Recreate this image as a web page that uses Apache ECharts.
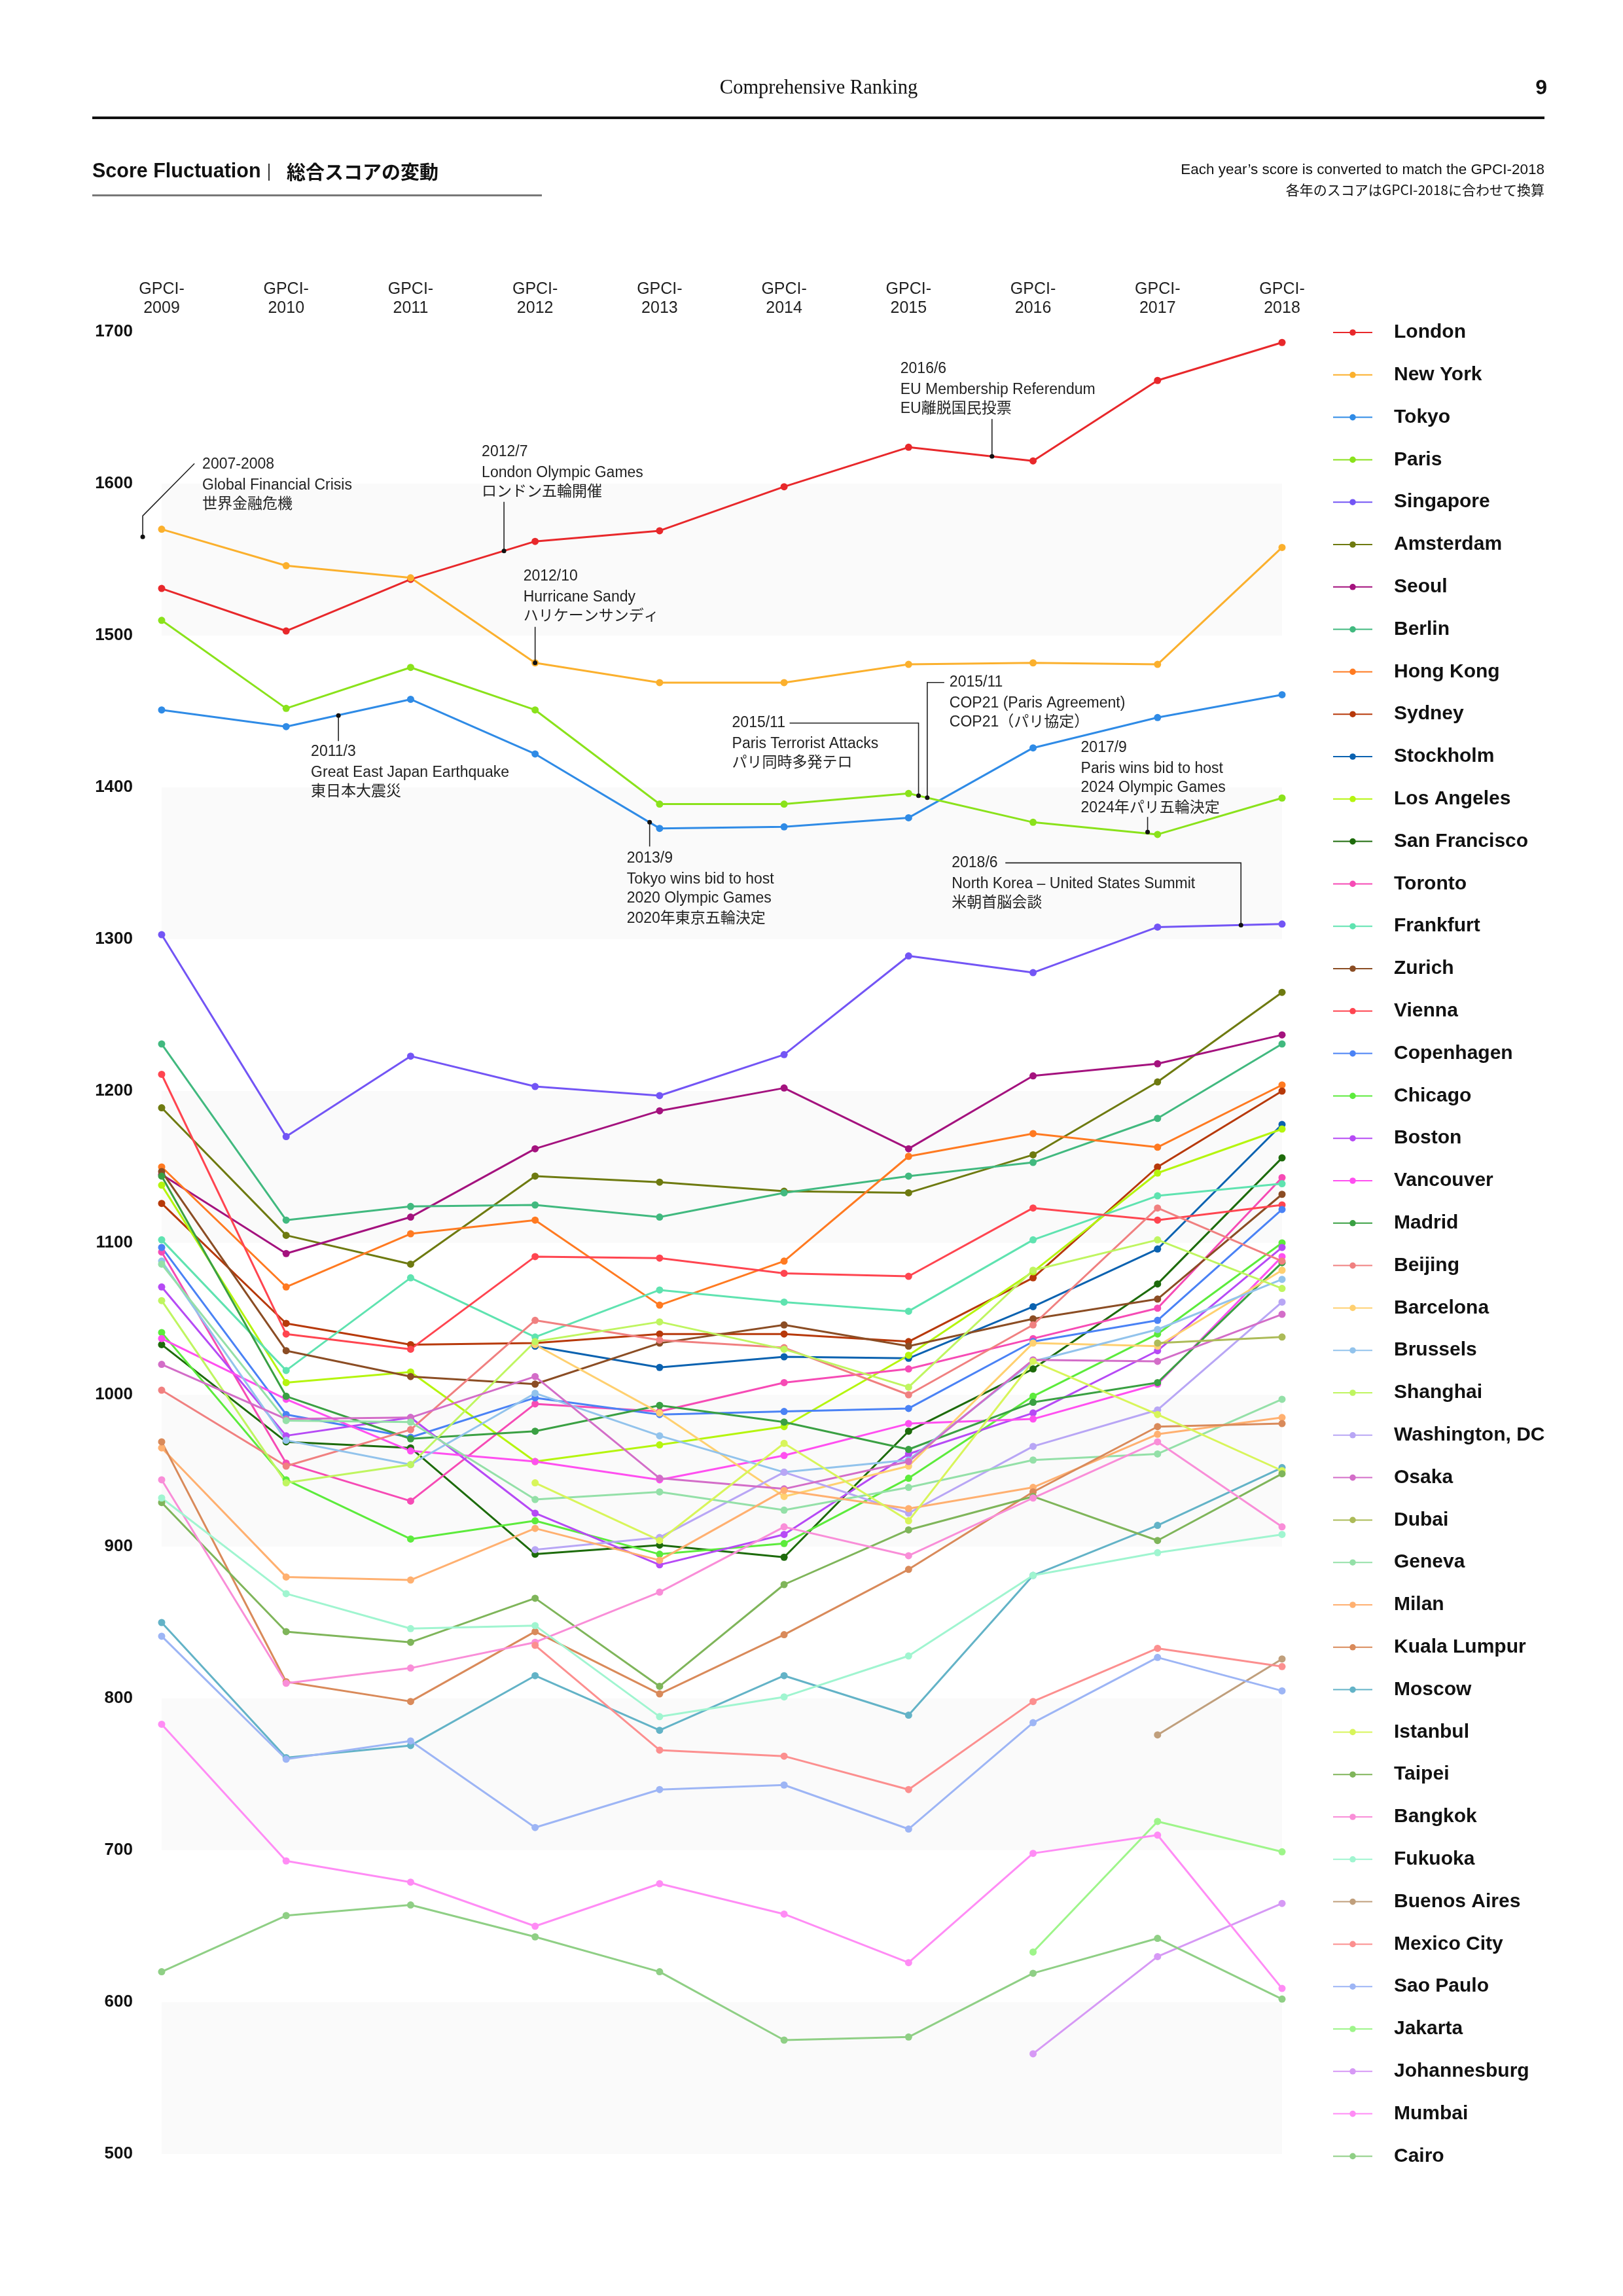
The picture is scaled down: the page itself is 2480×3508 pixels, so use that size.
<!DOCTYPE html>
<html><head><meta charset="utf-8">
<script src="https://cdn.jsdelivr.net/npm/echarts@6/dist/echarts.min.js"></script>
<style>html,body{margin:0;padding:0;background:#fff}#c{width:2480px;height:3508px}</style>
</head><body><div id="c"></div>
<script>
const years = ['2009','2010','2011','2012','2013','2014','2015','2016','2017','2018'];
const tickLabels = years.map(y => 'GPCI-\n' + y);
const N = null;
const london       = [1531,1503,1537,1562,1569,1598,1624,1615,1668,1693];
const newYork      = [1570,1546,1538,1482,1469,1469,1481,1482,1481,1558];
const tokyo        = [1451,1440,1458,1422,1373,1374,1380,1426,1446,1461];
const paris        = [1510,1452,1479,1451,1389,1389,1396,1377,1369,1393];
const singapore    = [1303,1170,1223,1203,1197,1224,1289,1278,1308,1310];
const amsterdam    = [1189,1105,1086,1144,1140,1134,1133,1158,1206,1265];
const seoul        = [1145,1093,1117,1162,1187,1202,1162,1210,1218,1237];
const berlin       = [1231,1115,1124,1125,1117,1133,1144,1153,1182,1231];
const hongKong     = [1150,1071,1106,1115,1059,1088,1157,1172,1163,1204];
const sydney       = [1126,1047,1033,1034,1040,1040,1035,1077,1150,1200];
const stockholm    = [N,N,N,1032,1018,1025,1024,1058,1096,1178];
const losAngeles   = [1138,1008,1015,956,967,979,1026,1081,1146,1175];
const sanFrancisco = [1033,969,965,895,901,893,976,1017,1073,1156];
const toronto      = [1094,955,930,994,989,1008,1017,1037,1057,1143];
const frankfurt    = [1102,1016,1077,1038,1069,1061,1055,1102,1131,1139];
const zurich       = [1147,1029,1012,1007,1034,1046,1032,1050,1063,1132];
const vienna       = [1211,1040,1030,1091,1090,1080,1078,1123,1115,1125];
const copenhagen   = [1097,987,972,998,987,989,991,1035,1049,1122];
const chicago      = [1041,944,905,917,895,902,945,999,1040,1100];
const boston       = [1071,973,985,922,888,908,961,988,1029,1097];
const vancouver    = [1037,997,963,956,944,960,981,984,1007,1091];
const madrid       = [1144,999,971,976,993,982,964,995,1008,1087];
const beijing      = [1003,953,977,1049,1036,1031,1000,1046,1123,1088];
const barcelona    = [N,N,N,1033,988,933,953,1034,1032,1082];
const brussels     = [1088,970,954,1001,973,949,957,1022,1043,1076];
const shanghai     = [1062,942,954,1035,1048,1030,1005,1082,1102,1070];
const washington   = [N,N,N,898,906,949,922,966,990,1061];
const osaka        = [1020,984,985,1012,945,938,956,1023,1022,1053];
const dubai        = [N,N,N,N,N,N,N,N,1034,1038];
const geneva       = [1086,983,982,931,936,924,939,957,961,997];
const milan        = [965,880,878,912,891,937,925,939,974,985];
const kualaLumpur  = [969,811,798,844,803,842,885,936,979,981];
const moscow       = [850,761,769,815,779,815,789,881,914,952];
const istanbul     = [N,N,N,942,904,968,917,1022,987,950];
const taipei       = [929,844,837,866,808,875,911,933,904,948];
const bangkok      = [944,810,820,837,870,913,894,932,969,913];
const fukuoka      = [932,869,846,848,788,801,828,881,896,908];
const buenosAires  = [N,N,N,N,N,N,N,N,776,826];
const mexicoCity   = [N,N,N,835,766,762,740,798,833,821];
const saoPaulo     = [841,760,772,715,740,743,714,784,827,805];
const jakarta      = [N,N,N,N,N,N,N,633,719,699];
const johannesburg = [N,N,N,N,N,N,N,566,630,665];
const mumbai       = [783,693,679,650,678,658,626,698,710,609];
const cairo        = [620,657,664,643,620,575,577,619,642,602];

const cityNames = ['London','New York','Tokyo','Paris','Singapore','Amsterdam','Seoul','Berlin','Hong Kong','Sydney','Stockholm','Los Angeles','San Francisco','Toronto','Frankfurt','Zurich','Vienna','Copenhagen','Chicago','Boston','Vancouver','Madrid','Beijing','Barcelona','Brussels','Shanghai','Washington, DC','Osaka','Dubai','Geneva','Milan','Kuala Lumpur','Moscow','Istanbul','Taipei','Bangkok','Fukuoka','Buenos Aires','Mexico City','Sao Paulo','Jakarta','Johannesburg','Mumbai','Cairo'];
const cityValues = [london,newYork,tokyo,paris,singapore,amsterdam,seoul,berlin,hongKong,sydney,stockholm,losAngeles,sanFrancisco,toronto,frankfurt,zurich,vienna,copenhagen,chicago,boston,vancouver,madrid,beijing,barcelona,brussels,shanghai,washington,osaka,dubai,geneva,milan,kualaLumpur,moscow,istanbul,taipei,bangkok,fukuoka,buenosAires,mexicoCity,saoPaulo,jakarta,johannesburg,mumbai,cairo];
const colors = ['#e8282b','#fbb02d','#2f8be6','#8ae21b','#7355f5','#6e7a10','#a4127e','#41b97f','#ff7a21','#b7390a','#0b62b0','#b5f50e','#1d6b0b','#f64bb5','#5fe3b0','#8b4d24','#ff4550','#4a82f5','#5ceb3c','#b64af5','#ff4ff0','#3aa043','#f08080','#ffd070','#92c3ec','#bff560','#b8a6f5','#d36dc8','#acbb58','#94e0a8','#ffb070','#d98a5a','#63b3c7','#d8f55a','#7fb55a','#f98ed8','#a0f5d0','#c09f7c','#fc8f8f','#9db5f5','#9ef58a','#d699f5','#ff8cf5','#8fcf85'];

const annotations = [
 {at:[-0.152,1565], lines:['2007-2008','Global Financial Crisis','世界金融危機'], leader:[[0,0],[0,-32],[79,-112]], text:[91,-111]},
 {at:[2.75,1555.7], lines:['2012/7','London Olympic Games','ロンドン五輪開催'], leader:[[0,0],[0,-75]], text:[-34,-151]},
 {at:[3,1482], lines:['2012/10','Hurricane Sandy','ハリケーンサンディ'], leader:[[0,0],[0,-55]], text:[-18,-132]},
 {at:[6.67,1618], lines:['2016/6','EU Membership Referendum','EU離脱国民投票'], leader:[[0,0],[0,-57]], text:[-140,-134]},
 {at:[1.42,1447.3], lines:['2011/3','Great East Japan Earthquake','東日本大震災'], leader:[[0,0],[0,39]], text:[-42,55]},
 {at:[6.08,1394.5], lines:['2015/11','Paris Terrorist Attacks','パリ同時多発テロ'], leader:[[0,0],[0,-111],[-197,-111]], text:[-285,-111]},
 {at:[6.15,1393.2], lines:['2015/11','COP21 (Paris Agreement)','COP21（パリ協定）'], leader:[[0,0],[0,-176],[26,-176]], text:[34,-176]},
 {at:[7.92,1370.6], lines:['2017/9','Paris wins bid to host','2024 Olympic Games','2024年パリ五輪決定'], leader:[[0,0],[0,-23]], text:[-102,-129]},
 {at:[3.92,1377], lines:['2013/9','Tokyo wins bid to host','2020 Olympic Games','2020年東京五輪決定'], leader:[[0,0],[0,37]], text:[-35,55]},
 {at:[8.67,1309.3], lines:['2018/6','North Korea – United States Summit','米朝首脳会談'], leader:[[0,0],[0,-95],[-360,-95]], text:[-442,-95]}
];
const lineOffsets = [0,32,61,92];

const SANS = "'Liberation Sans','Noto Sans CJK JP',sans-serif";
const chart = echarts.init(document.getElementById('c'), null, {renderer:'canvas', width:2480, height:3508});

const series = cityNames.map((name,i) => ({
  name, type:'line', data: cityValues[i], symbol:'circle', symbolSize:11,
  showSymbol:true, connectNulls:false, color: colors[i],
  lineStyle:{width:3, color:colors[i]}, itemStyle:{color:colors[i]},
  emphasis:{disabled:true}, z: 2
}));

const headerGraphics = [
  {type:'text', style:{text:'Comprehensive Ranking', x:1251, y:135, align:'center', verticalAlign:'middle', font:"30.5px 'Liberation Serif', serif", fill:'#111'}},
  {type:'text', style:{text:'9', x:2364, y:135, align:'right', verticalAlign:'middle', font:"bold 32px "+SANS, fill:'#111'}},
  {type:'rect', shape:{x:141, y:178, width:2219, height:4}, style:{fill:'#111'}},
  {type:'text', style:{text:'Score Fluctuation', x:141, y:263, align:'left', verticalAlign:'middle', font:"bold 30.5px "+SANS, fill:'#111'}},
  {type:'rect', shape:{x:410, y:250, width:2, height:26}, style:{fill:'#333'}},
  {type:'text', style:{text:'総合スコアの変動', x:438, y:263, align:'left', verticalAlign:'middle', font:"bold 29px 'Noto Sans CJK JP',sans-serif", fill:'#111'}},
  {type:'rect', shape:{x:141, y:297, width:687, height:3}, style:{fill:'#777'}},
  {type:'text', style:{text:"Each year’s score is converted to match the GPCI-2018", x:2360, y:260, align:'right', verticalAlign:'middle', font:"22.5px "+SANS, fill:'#111'}},
  {type:'text', style:{text:'各年のスコアはGPCI-2018に合わせて換算', x:2360, y:290, align:'right', verticalAlign:'middle', font:"21px 'Noto Sans CJK JP',sans-serif", fill:'#111'}}
];

chart.setOption({
  animation:false,
  backgroundColor:'#fff',
  grid:{left:247, right:521, top:507, bottom:217, containLabel:false},
  xAxis:{type:'category', position:'top', data:tickLabels, boundaryGap:false,
    axisLine:{show:false}, axisTick:{show:false}, splitLine:{show:false},
    axisLabel:{fontSize:25, lineHeight:29, margin:21, color:'#222', fontFamily:SANS, interval:0}},
  yAxis:{type:'value', min:500, max:1700, interval:100,
    axisLine:{show:false}, axisTick:{show:false}, splitLine:{show:false},
    splitArea:{show:true, areaStyle:{color:['#fafafa','#ffffff']}},
    axisLabel:{fontSize:26, fontWeight:'bold', margin:44, color:'#111', fontFamily:SANS, formatter: v => String(v)}},
  legend:{orient:'vertical', left:2031, top:488, itemWidth:60, itemHeight:12, itemGap:34.8,
    data:cityNames, selectedMode:false,
    textStyle:{fontSize:30, fontWeight:'bold', lineHeight:30, color:'#111', fontFamily:SANS, padding:[0,0,0,28]}},
  series,
  graphic: headerGraphics
});

// annotations anchored to data coordinates
const p0 = chart.convertToPixel({xAxisIndex:0}, 0);
const p1 = chart.convertToPixel({xAxisIndex:0}, 1);
const xPix = i => p0 + (p1 - p0) * i;
const yPix = v => chart.convertToPixel({yAxisIndex:0}, v);
const annGraphics = [];
annotations.forEach(a => {
  const ax = xPix(a.at[0]), ay = yPix(a.at[1]);
  annGraphics.push({type:'polyline', z:50, shape:{points:a.leader.map(p => [ax+p[0], ay+p[1]])}, style:{stroke:'#222', lineWidth:1.6, fill:null}});
  annGraphics.push({type:'circle', z:51, shape:{cx:ax, cy:ay, r:3.5}, style:{fill:'#111'}});
  a.lines.forEach((t,k) => {
    annGraphics.push({type:'text', z:52, style:{text:t, x:ax+a.text[0], y:ay+a.text[1]+lineOffsets[k], align:'left', verticalAlign:'middle', font:"23px "+SANS, fill:'#222'}});
  });
});
chart.setOption({graphic: headerGraphics.concat(annGraphics)});
</script>
</body></html>
